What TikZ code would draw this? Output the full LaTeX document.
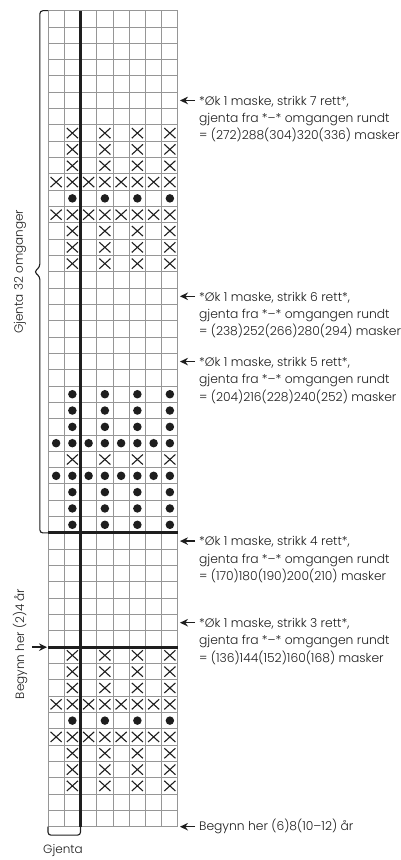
\documentclass[tikz,border=0pt]{standalone}
\usepackage{fontspec}
\setmainfont{Poppins Light}[Numbers=Monospaced]
\usepackage{tikz}
\usetikzlibrary{arrows.meta, positioning, shapes.misc}
\definecolor{gridgray}{RGB}{150,150,150}
\definecolor{inkdark}{RGB}{30,30,30}
\tikzset{
  gridline/.style={draw=gridgray, line width=1pt},
  heavy/.style={draw=inkdark, line width=3pt},
  kryss/.style={cross out, draw=inkdark, line width=1.1pt,
    minimum width=10pt, minimum height=9pt, inner sep=0pt},
  prikk/.style={circle, fill=inkdark, minimum size=8.5pt, inner sep=0pt},
  arrow/.style={-{Stealth[length=8pt,width=7.5pt]}, line width=1.4pt, color=inkdark},
  bracket/.style={draw=inkdark, line width=1.1pt, rounded corners=3pt},
  note/.style={font=\fontsize{12.3}{17.3}\selectfont, text=inkdark, align=left,
    inner sep=0pt, anchor=north west}
}
\begin{document}
\begin{tikzpicture}[x=16.25pt, y=16.32pt,
  sidetext/.style={font=\fontsize{12}{14}\selectfont, text=inkdark, inner sep=0pt}]
  \useasboundingbox (-2.954,-2.040) rectangle (21.662,50.656);

  % rutenett
  \draw[gridline, step={(1,1)}] (0,0) grid (8,50);

  % kryss og prikker
  \foreach \r in {3,4,5,9,10,11,23,35,36,37,41,42,43}
    \foreach \c in {2,4,6,8}
      \node[kryss] (x-\r-\c) at (\c-0.5,\r-0.5) {};
  \foreach \r in {6,8,38,40}
    \foreach \c in {1,...,8}
      \node[kryss] (x-\r-\c) at (\c-0.5,\r-0.5) {};
  \foreach \r in {7,19,20,21,25,26,27,39}
    \foreach \c in {2,4,6,8}
      \node[prikk] (d-\r-\c) at (\c-0.5,\r-0.5) {};
  \foreach \r in {22,24}
    \foreach \c in {1,...,8}
      \node[prikk] (d-\r-\c) at (\c-0.5,\r-0.5) {};

  % tykke linjer
  \draw[heavy] (2,0) -- (2,50);
  \draw[heavy] (0,11) -- (8,11);
  \draw[heavy] (0,18) -- (8,18);

  % klammer
  \draw[bracket] (0,50) -- (-0.5,50) -- (-0.5,34.3) -- (-0.85,34) -- (-0.5,33.7)
    -- (-0.5,18) -- (0,18);
  \draw[bracket] (0,0) -- (0,-0.52) -- (2,-0.52) -- (2,0);

  % tekst til venstre og under
  \node[sidetext, rotate=90] (omg) at (-1.72,34) {Gjenta 32 omganger};
  \node[sidetext, rotate=90] (start24) at (-1.72,11.2) {Begynn her (2)4 år};
  \node[sidetext] (gjenta) at (0.92,-1.49) {Gjenta};
  \coordinate (inn24) at (-0.985,11);
  \coordinate (kant24) at (-0.06,11);
  \draw[arrow] (inn24) -- (kant24);

  % merknader til hoyre
  \foreach \r/\k/\m [count=\i] in {44.5/7/(272)288(304)320(336),
      32.5/6/(238)252(266)280(294), 28.5/5/(204)216(228)240(252),
      17.5/4/(170)180(190)200(210), 12.5/3/(136)144(152)160(168)} {
    \coordinate (hale\i) at (9.05,\r);
    \coordinate (spiss\i) at (8.12,\r);
    \draw[arrow] (hale\i) -- (spiss\i);
    \node[note, yshift=4.6pt] (note\i) at (9.29,\r)
      {*Øk 1 maske, strikk \k{} rett*,\\gjenta fra *–* omgangen rundt\\= \m{} masker};
  }
  \coordinate (hale0) at (9.05,0);
  \coordinate (spiss0) at (8.12,0);
  \draw[arrow] (hale0) -- (spiss0);
  \node[note, anchor=west] (start68) at (9.29,0) {Begynn her (6)8(10–12) år};
\end{tikzpicture}
\end{document}
